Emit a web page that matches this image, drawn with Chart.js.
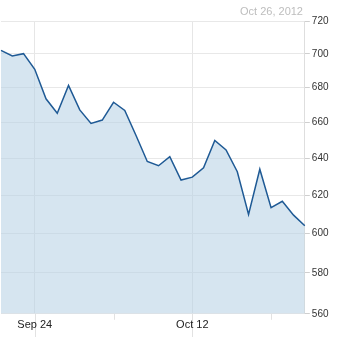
<!DOCTYPE html>
<html>
<head>
<meta charset="utf-8">
<script src="https://cdn.jsdelivr.net/npm/chart.js@4.4.0/dist/chart.umd.min.js"></script>
<style>
  body { margin: 0; background: #fff; }
  #wrap { position: relative; width: 338px; height: 337px; }
  #stamp { position: absolute; right: 35px; top: 5px; font: 11px Arial, "Liberation Sans", sans-serif; color: #bdbdbd; }
</style>
</head>
<body>
<div id="wrap">
  <canvas id="price" width="338" height="337"></canvas>
  <div id="stamp">Oct 26, 2012</div>
</div>
<script>
// trading days shown
const dates = [
  'Sep 19', 'Sep 20', 'Sep 21', 'Sep 24', 'Sep 25', 'Sep 26', 'Sep 27', 'Sep 28',
  'Oct 1', 'Oct 2', 'Oct 3', 'Oct 4', 'Oct 5',
  'Oct 8', 'Oct 9', 'Oct 10', 'Oct 11', 'Oct 12',
  'Oct 15', 'Oct 16', 'Oct 17', 'Oct 18', 'Oct 19',
  'Oct 22', 'Oct 23', 'Oct 24', 'Oct 25', 'Oct 26'
];
// closing prices
const closes = [
  702.1, 698.7, 700.1, 690.8, 673.5, 665.2, 681.3, 667.1,
  659.4, 661.3, 671.5, 666.8, 652.6,
  638.2, 635.9, 640.9, 628.1, 629.7,
  634.8, 649.8, 644.6, 632.6, 609.8,
  634.0, 613.4, 616.8, 609.5, 604.0
];
const majorTicks = ['Sep 24', 'Oct 12'];
const minorTicks = ['Oct 3', 'Oct 23'];
const priceTicks = [560, 580, 600, 620, 640, 660, 680, 700, 720];

const ctx = document.getElementById('price').getContext('2d');

// tick marks under the plot: long ones at labelled dates, short ones between
// (drawn before the scales so the labels sit on top)
const dateTickPlugin = {
  id: 'dateTicks',
  beforeDraw(chart) {
    const x = chart.scales.x;
    const c = chart.ctx;
    const bottom = chart.chartArea.bottom;
    c.save();
    c.strokeStyle = '#e2e2e2';
    c.lineWidth = 1;
    majorTicks.forEach(d => {
      const px = Math.round(x.getPixelForValue(dates.indexOf(d))) + 0.5;
      c.beginPath();
      c.moveTo(px, bottom);
      c.lineTo(px, chart.height);
      c.stroke();
    });
    minorTicks.forEach(d => {
      const px = Math.round(x.getPixelForValue(dates.indexOf(d))) + 0.5;
      c.beginPath();
      c.moveTo(px, bottom);
      c.lineTo(px, bottom + 6);
      c.stroke();
    });
    c.restore();
  }
};

const config = {
  type: 'line',
  data: {
    labels: dates,
    datasets: [{
      data: closes,
      borderColor: '#1f5a95',
      borderWidth: 1.5,
      backgroundColor: 'rgba(180, 208, 228, 0.55)',
      fill: 'start',
      pointRadius: 0,
      tension: 0
    }]
  },
  options: {
    responsive: false,
    animation: false,
    layout: { padding: { top: 21, right: 7.5, left: 1, bottom: 5 } },
    plugins: {
      legend: { display: false },
      tooltip: { enabled: false }
    },
    scales: {
      x: {
        type: 'category',
        offset: false,
        afterBuildTicks: axis => {
          axis.ticks = majorTicks.map(d => ({ value: dates.indexOf(d) }));
        },
        ticks: {
          autoSkip: false,
          maxRotation: 0,
          padding: 0,
          color: '#222',
          font: { family: 'Arial, "Liberation Sans", sans-serif', size: 11 },
          callback: function (value) { return dates[value]; }
        },
        grid: {
          color: '#e6e6e6',
          tickColor: 'rgba(0,0,0,0)',
          tickLength: 5
        },
        border: { display: false }
      },
      y: {
        type: 'logarithmic',
        position: 'right',
        min: 560,
        max: 720,
        afterBuildTicks: axis => {
          axis.ticks = priceTicks.map(v => ({ value: v }));
        },
        ticks: {
          padding: 2,
          color: '#333',
          font: { family: 'Arial, "Liberation Sans", sans-serif', size: 10 },
          callback: value => String(value)
        },
        grid: {
          color: '#e8e8e8',
          tickColor: '#cfcfcf',
          tickLength: 5
        },
        border: { display: true, color: '#dedede' }
      }
    }
  },
  plugins: [dateTickPlugin]
};

const priceChart = new Chart(ctx, config);
</script>
</body>
</html>
